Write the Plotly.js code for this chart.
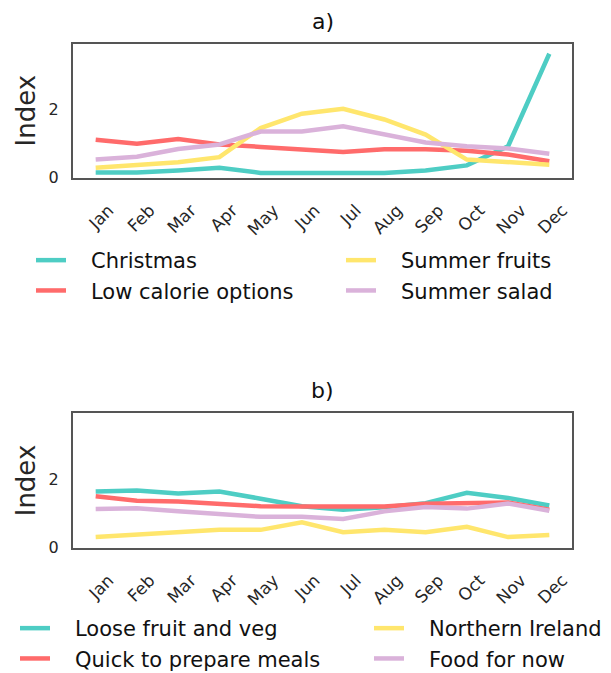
<!DOCTYPE html>
<html>
<head>
<meta charset="utf-8">
<script src="https://cdn.plot.ly/plotly-3.0.1.min.js"></script>
<style>html,body{margin:0;padding:0;background:#fff;}</style>
</head>
<body>
<div id="chart" style="width:611px;height:673px;"></div>
<script>
const months = ["Jan","Feb","Mar","Apr","May","Jun","Jul","Aug","Sep","Oct","Nov","Dec"];

// Panel a)
const christmas      = [0.15, 0.15, 0.21, 0.29, 0.14, 0.14, 0.14, 0.14, 0.21, 0.36, 0.92, 3.62];
const lowCalorie     = [1.11, 0.99, 1.13, 0.97, 0.90, 0.82, 0.75, 0.83, 0.83, 0.79, 0.68, 0.48];
const summerFruits   = [0.29, 0.38, 0.45, 0.60, 1.45, 1.87, 2.01, 1.70, 1.26, 0.53, 0.44, 0.38];
const summerSalad    = [0.53, 0.61, 0.84, 0.97, 1.35, 1.35, 1.50, 1.28, 1.03, 0.92, 0.85, 0.70];

// Panel b)
const looseFruitVeg  = [1.64, 1.67, 1.58, 1.64, 1.43, 1.21, 1.11, 1.18, 1.30, 1.60, 1.45, 1.23];
const quickMeals     = [1.50, 1.37, 1.35, 1.28, 1.21, 1.20, 1.20, 1.20, 1.28, 1.29, 1.32, 1.11];
const northernIreland= [0.31, 0.39, 0.45, 0.52, 0.52, 0.74, 0.45, 0.52, 0.45, 0.61, 0.31, 0.37];
const foodForNow     = [1.13, 1.15, 1.06, 0.97, 0.90, 0.90, 0.84, 1.06, 1.19, 1.14, 1.29, 1.08];

const yTicks = [0, 2];

const C = {teal:"#4ECDC4", red:"#FF6B6B", yellow:"#FFE66D", lilac:"#DAB2DA"};
const pad = "\u00a0\u00a0\u00a0";

function tr(name, y, color, xa, ya, leg){
  return {type:"scatter", mode:"lines", x:months, y:y, name:pad + name,
    line:{color:color, width:4.5}, xaxis:xa, yaxis:ya, legend:leg, hoverinfo:"skip"};
}

const data = [
  tr("Christmas", christmas, C.teal, "x", "y", "legend"),
  tr("Low calorie options", lowCalorie, C.red, "x", "y", "legend"),
  tr("Summer fruits", summerFruits, C.yellow, "x", "y", "legend2"),
  tr("Summer salad", summerSalad, C.lilac, "x", "y", "legend2"),
  tr("Loose fruit and veg", looseFruitVeg, C.teal, "x2", "y2", "legend3"),
  tr("Quick to prepare meals", quickMeals, C.red, "x2", "y2", "legend3"),
  tr("Northern Ireland", northernIreland, C.yellow, "x2", "y2", "legend4"),
  tr("Food for now", foodForNow, C.lilac, "x2", "y2", "legend4")
];

const font = "DejaVu Sans, sans-serif";
const W = 611, H = 673;
const px = v => v / W;
const py = v => 1 - v / H;

function xax(anchor){
  return {domain:[px(73), px(572)], anchor:anchor, type:"category", categoryarray:months,
    range:[-0.55, 11.55], showline:true, mirror:true, linecolor:"#555", linewidth:2,
    showgrid:false, zeroline:false, ticks:"outside", ticklen:14, tickcolor:"rgba(0,0,0,0)",
    tickangle:-45, ticklabelshift:13, automargin:false,
    tickfont:{family:font, size:17, color:"#262626"}};
}
function yax(anchor, top, bottom){
  return {domain:[py(bottom), py(top)], anchor:anchor, range:[0, 3.92],
    tickvals:yTicks, showline:true, mirror:true, linecolor:"#555", linewidth:2,
    showgrid:false, zeroline:false, ticks:"outside", ticklen:9, tickcolor:"rgba(0,0,0,0)",
    automargin:false,
    tickfont:{family:font, size:16, color:"#262626"},
    title:{text:"Index", font:{family:font, size:26, color:"#262626"}, standoff:6}};
}

function leg(x, y){
  return {orientation:"v", x:px(x), y:py(y), xanchor:"left", yanchor:"top", itemwidth:30,
    font:{family:font, size:21, color:"#111"}, bgcolor:"rgba(0,0,0,0)", borderwidth:0};
}

const layout = {
  width:W, height:H, margin:{l:0, r:0, t:0, b:0, autoexpand:false},
  paper_bgcolor:"#fff", plot_bgcolor:"#fff",
  font:{family:font, color:"#262626"},
  xaxis: xax("y"),
  yaxis: yax("x", 43.5, 177.7),
  xaxis2: xax("y2"),
  yaxis2: yax("x2", 413.3, 547.7),
  showlegend:true,
  legend: leg(31, 240),
  legend2: leg(341, 240),
  legend3: leg(15, 608),
  legend4: leg(369, 608),
  annotations:[
    {text:"a)", xref:"paper", yref:"paper", x:(px(73)+px(572))/2, y:py(21), xanchor:"center", yanchor:"middle",
     showarrow:false, font:{family:font, size:22, color:"#111"}},
    {text:"b)", xref:"paper", yref:"paper", x:(px(73)+px(572))/2, y:py(390), xanchor:"center", yanchor:"middle",
     showarrow:false, font:{family:font, size:22, color:"#111"}}
  ]
};

Plotly.newPlot("chart", data, layout, {staticPlot:true, displayModeBar:false});
</script>
</body>
</html>
